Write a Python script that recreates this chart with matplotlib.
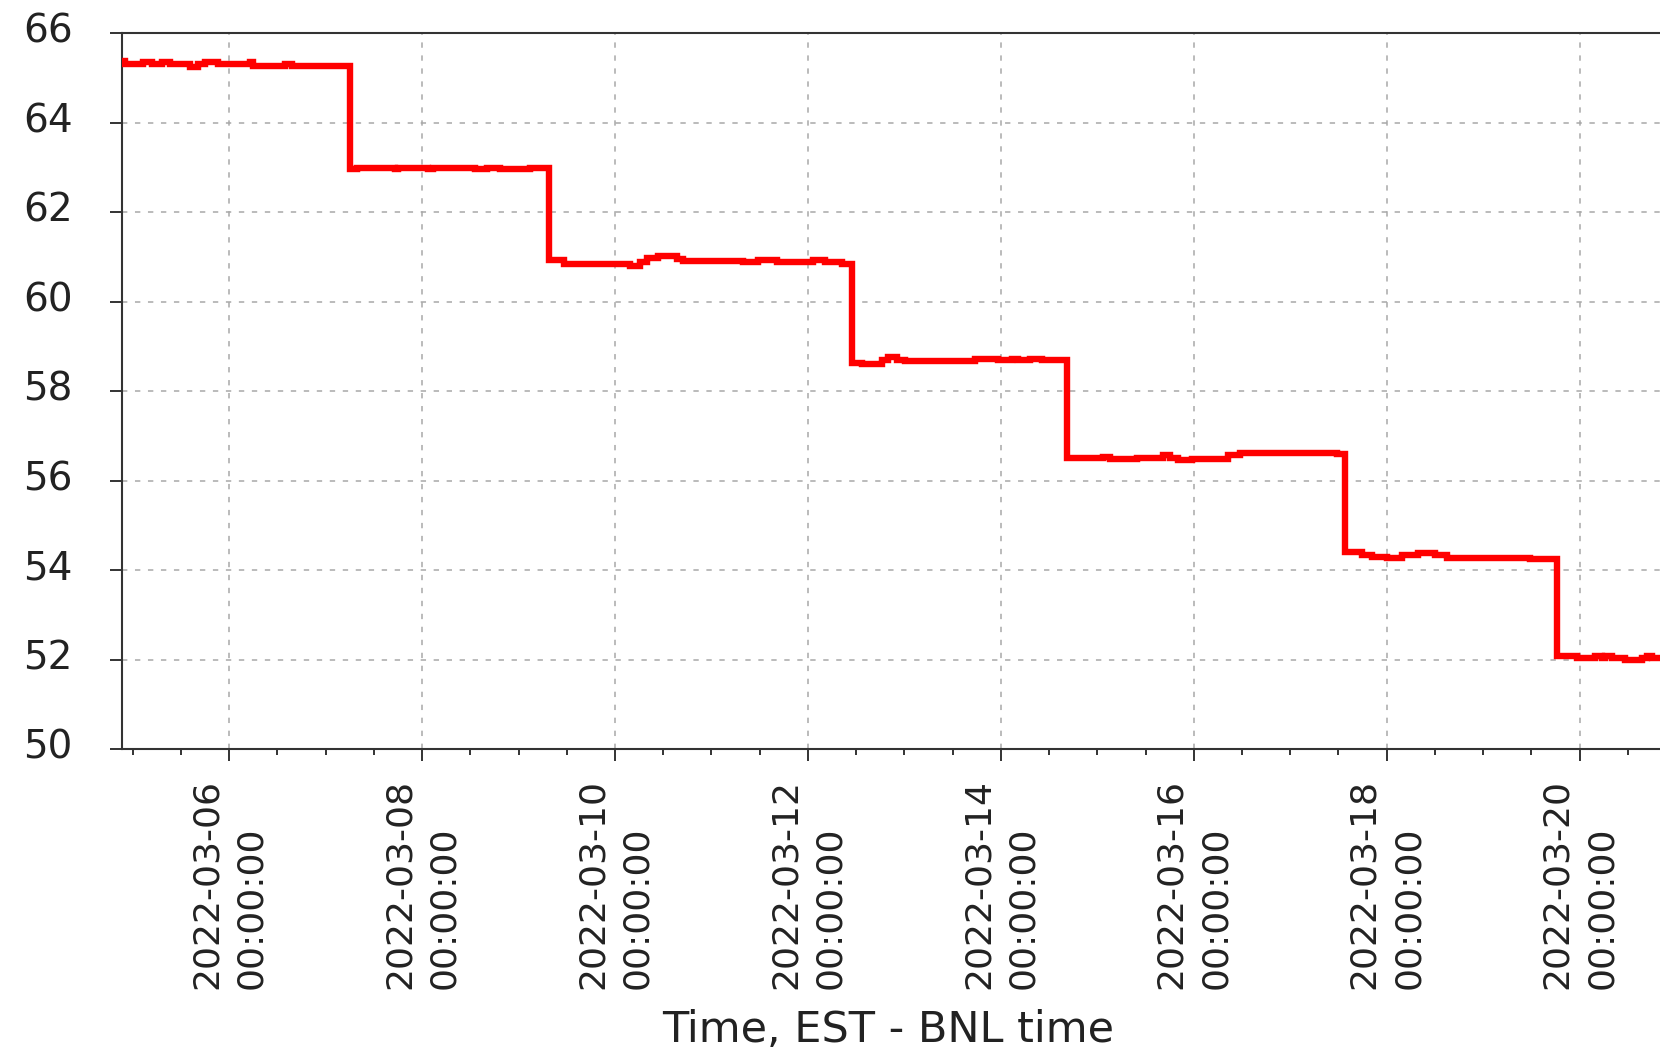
import matplotlib
matplotlib.use("Agg")
import matplotlib.pyplot as plt
import matplotlib.dates as mdates
import matplotlib.transforms as mtransforms
import pandas as pd

# step readings (time of change, value held until next change)
times = [
    "2022-03-04 21:20", "2022-03-04 22:07", "2022-03-05 02:36", "2022-03-05 04:48",
    "2022-03-05 07:20", "2022-03-05 09:20", "2022-03-05 14:18", "2022-03-05 16:18",
    "2022-03-05 18:00", "2022-03-05 21:16", "2022-03-06 05:12", "2022-03-06 06:00",
    "2022-03-06 13:56", "2022-03-06 15:40",
    "2022-03-07 06:06", "2022-03-07 07:50", "2022-03-07 17:18", "2022-03-07 18:03",
    "2022-03-08 01:30", "2022-03-08 02:45", "2022-03-08 13:12", "2022-03-08 16:11",
    "2022-03-08 19:25", "2022-03-09 02:53",
    "2022-03-09 07:36", "2022-03-09 11:12", "2022-03-10 03:48", "2022-03-10 06:14",
    "2022-03-10 07:55", "2022-03-10 10:48", "2022-03-10 15:23", "2022-03-10 17:02",
    "2022-03-11 07:56", "2022-03-11 11:40", "2022-03-11 16:15", "2022-03-12 01:22",
    "2022-03-12 04:16", "2022-03-12 08:25",
    "2022-03-12 10:55", "2022-03-12 13:24", "2022-03-12 18:22", "2022-03-12 20:01",
    "2022-03-12 22:07", "2022-03-13 00:11", "2022-03-13 17:35", "2022-03-13 23:23",
    "2022-03-14 02:43", "2022-03-14 04:22", "2022-03-14 07:16", "2022-03-14 10:11",
    "2022-03-14 16:24", "2022-03-15 01:31", "2022-03-15 03:11", "2022-03-15 09:50",
    "2022-03-15 16:27", "2022-03-15 18:07", "2022-03-15 20:11", "2022-03-15 23:31",
    "2022-03-16 08:37", "2022-03-16 11:31", "2022-03-17 11:34",
    "2022-03-17 13:38", "2022-03-17 17:47", "2022-03-17 20:17", "2022-03-18 00:01",
    "2022-03-18 03:45", "2022-03-18 07:53", "2022-03-18 12:02", "2022-03-18 14:56",
    "2022-03-19 11:39",
    "2022-03-19 18:28", "2022-03-19 23:17", "2022-03-20 03:50", "2022-03-20 05:30",
    "2022-03-20 06:20", "2022-03-20 08:00", "2022-03-20 11:19", "2022-03-20 15:28",
    "2022-03-20 16:43", "2022-03-20 17:58", "2022-03-21 01:00",
]
values = [
    65.39, 65.32, 65.36, 65.32, 65.36, 65.32, 65.26, 65.32, 65.36, 65.32, 65.36, 65.27,
    65.31, 65.27,
    62.97, 63.00, 62.97, 63.00, 62.98, 63.00, 62.98, 63.00, 62.97, 63.00,
    60.93, 60.85, 60.81, 60.90, 60.99, 61.02, 60.95, 60.92, 60.90, 60.93, 60.90, 60.94,
    60.90, 60.84,
    58.63, 58.60, 58.69, 58.76, 58.69, 58.67, 58.71, 58.69, 58.72, 58.69, 58.72, 58.69,
    56.51, 56.54, 56.49, 56.51, 56.58, 56.51, 56.46, 56.49, 56.58, 56.63, 56.60,
    54.41, 54.34, 54.30, 54.27, 54.33, 54.39, 54.33, 54.28, 54.25,
    52.09, 52.04, 52.09, 52.04, 52.09, 52.04, 51.98, 52.04, 52.09, 52.04, 52.04,
]
x_start = "2022-03-04 21:20"
x_end = "2022-03-21 01:00"
y_ticks = [50, 52, 54, 56, 58, 60, 62, 64, 66]
x_label = "Time, EST - BNL time"

t = pd.to_datetime(times)

fig = plt.figure(figsize=(16.6, 10.52), dpi=100)
ax = fig.add_axes([0.0735, 0.288, 0.9386, 0.6802])

ax.plot(t, values, color="#ff0000", lw=4.6, drawstyle="steps-post",
        solid_joinstyle="miter", zorder=3)

ax.set_xlim(pd.Timestamp(x_start), pd.Timestamp(x_end))
ax.set_ylim(50, 66)
ax.set_yticks(y_ticks)

ax.xaxis.set_major_locator(mdates.DayLocator(bymonthday=range(2, 32, 2)))
ax.xaxis.set_minor_locator(mdates.HourLocator(byhour=[0, 12]))
ax.xaxis.set_major_formatter(mdates.DateFormatter("%Y-%m-%d\n%H:%M:%S"))

ax.grid(True, which="major", color="#a8a8a8", lw=1.1, linestyle=(0, (3.5, 5)))
ax.set_axisbelow(True)

for s in ["left", "bottom", "top"]:
    ax.spines[s].set_color("#333333")
    ax.spines[s].set_linewidth(1.5)
ax.spines["right"].set_visible(False)

ax.tick_params(axis="y", which="major", length=8.5, width=1.4, color="#333333",
               labelsize=28, pad=27, labelcolor="#222222")
ax.tick_params(axis="x", which="major", length=8.5, width=1.4, color="#333333",
               labelsize=26, pad=13, labelcolor="#222222", labelrotation=90)
ax.tick_params(axis="x", which="minor", length=4.5, width=1.4, color="#333333")

for lab in ax.get_xticklabels():
    lab.set_linespacing(1.4)
    lab.set_multialignment("left")

# y labels sit a little above their ticks in the original
shift = mtransforms.ScaledTranslation(0, 4 / 72, fig.dpi_scale_trans)
for lab in ax.get_yticklabels():
    lab.set_transform(lab.get_transform() + shift)

ax.set_xlabel(x_label, fontsize=31, color="#222222")
ax.xaxis.set_label_coords((887.7 - 122) / 1558, -0.363)

fig.savefig("out.png", dpi=100)
